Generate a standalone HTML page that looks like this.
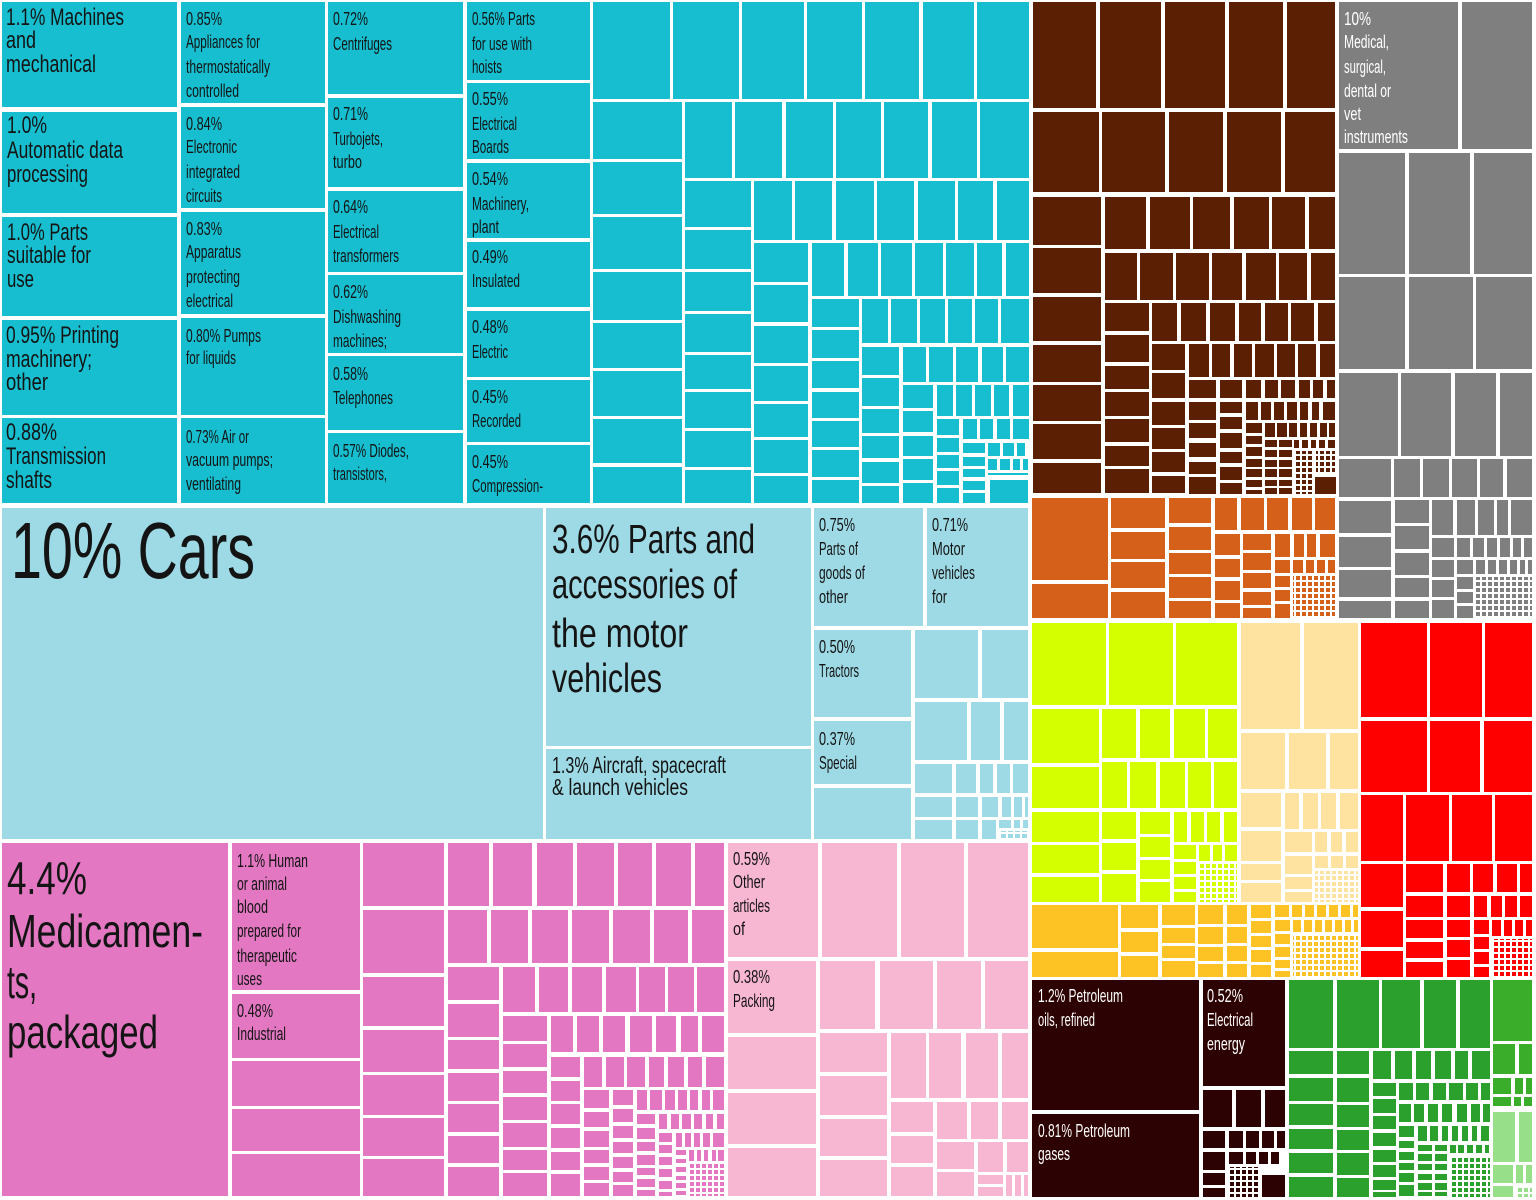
<!DOCTYPE html>
<html><head><meta charset="utf-8"><style>
html,body{margin:0;padding:0;background:#fff;}
svg{display:block;}
text{font-family:"Liberation Sans",sans-serif;}
.k{fill:#141414;}
.w{fill:#fff;}
</style></head><body>
<svg width="1536" height="1200" viewBox="0 0 1536 1200" xmlns="http://www.w3.org/2000/svg">
<defs>
<pattern id="pc" width="7" height="6" patternUnits="userSpaceOnUse"><rect width="5" height="4" fill="#17becf"/></pattern>
<pattern id="plb" width="7" height="6" patternUnits="userSpaceOnUse"><rect width="5" height="4" fill="#9edae5"/></pattern>
<pattern id="pbr" width="6" height="6" patternUnits="userSpaceOnUse"><rect width="4" height="4" fill="#5b1f04"/></pattern>
<pattern id="pgr" width="6" height="6" patternUnits="userSpaceOnUse"><rect width="4" height="4" fill="#7f7f7f"/></pattern>
<pattern id="por" width="6" height="6" patternUnits="userSpaceOnUse"><rect width="4" height="4" fill="#d5601a"/></pattern>
<pattern id="pyg" width="6" height="6" patternUnits="userSpaceOnUse"><rect width="4" height="4" fill="#d4ff00"/></pattern>
<pattern id="ply" width="6" height="6" patternUnits="userSpaceOnUse"><rect width="4" height="4" fill="#fde39f"/></pattern>
<pattern id="prd" width="6" height="6" patternUnits="userSpaceOnUse"><rect width="4" height="4" fill="#ff0000"/></pattern>
<pattern id="poy" width="6" height="6" patternUnits="userSpaceOnUse"><rect width="4" height="4" fill="#fdc223"/></pattern>
<pattern id="pdk" width="6" height="6" patternUnits="userSpaceOnUse"><rect width="4" height="4" fill="#2d0202"/></pattern>
<pattern id="pgn" width="6" height="6" patternUnits="userSpaceOnUse"><rect width="4" height="4" fill="#2ca02c"/></pattern>
<pattern id="plg" width="6" height="6" patternUnits="userSpaceOnUse"><rect width="4" height="4" fill="#98df8a"/></pattern>
<pattern id="ppk" width="6" height="6" patternUnits="userSpaceOnUse"><rect width="4" height="4" fill="#e377c2"/></pattern>
<pattern id="plp" width="6" height="6" patternUnits="userSpaceOnUse"><rect width="4" height="4" fill="#f7b6d2"/></pattern>
</defs>

<!-- CYAN -->
<g fill="#17becf">
<rect x="2" y="2" width="175" height="105"/><rect x="2" y="112" width="175" height="101"/><rect x="2" y="217" width="175" height="99"/><rect x="2" y="320" width="175" height="95"/><rect x="2" y="418" width="175" height="85"/>
<rect x="181" y="2" width="144" height="101"/><rect x="181" y="107" width="144" height="101"/><rect x="181" y="212" width="144" height="102"/><rect x="181" y="318" width="144" height="97"/><rect x="181" y="418" width="144" height="85"/>
<rect x="328" y="2" width="135" height="92"/><rect x="328" y="98" width="135" height="89"/><rect x="328" y="191" width="135" height="81"/><rect x="328" y="275" width="135" height="78"/><rect x="328" y="356" width="135" height="74"/><rect x="328" y="433" width="135" height="70"/>
<rect x="467" y="2" width="123" height="78"/><rect x="467" y="83" width="123" height="76"/><rect x="467" y="163" width="123" height="75"/><rect x="467" y="242" width="123" height="65"/><rect x="467" y="311" width="123" height="66"/><rect x="467" y="380" width="123" height="62"/><rect x="467" y="445" width="123" height="58"/>
<rect x="593" y="2" width="77" height="97"/><rect x="673" y="2" width="66" height="97"/><rect x="742" y="2" width="62" height="97"/><rect x="807" y="2" width="55" height="97"/><rect x="865" y="2" width="54" height="97"/><rect x="923" y="2" width="51" height="97"/><rect x="977" y="2" width="52" height="97"/>
<rect x="593" y="102" width="89" height="57"/><rect x="593" y="162" width="89" height="52"/><rect x="593" y="217" width="89" height="52"/><rect x="593" y="272" width="89" height="48"/><rect x="593" y="323" width="89" height="45"/><rect x="593" y="371" width="89" height="45"/><rect x="593" y="419" width="89" height="44"/><rect x="593" y="467" width="89" height="36"/>
<rect x="685" y="102" width="47" height="76"/><rect x="735" y="102" width="47" height="76"/><rect x="786" y="102" width="47" height="76"/><rect x="836" y="102" width="45" height="76"/><rect x="884" y="102" width="44" height="76"/><rect x="932" y="102" width="45" height="76"/><rect x="980" y="102" width="49" height="76"/>
<rect x="685" y="181" width="66" height="46"/><rect x="685" y="230" width="66" height="39"/><rect x="685" y="272" width="66" height="39"/><rect x="685" y="314" width="66" height="38"/><rect x="685" y="355" width="66" height="34"/><rect x="685" y="392" width="66" height="36"/><rect x="685" y="431" width="66" height="36"/><rect x="685" y="470" width="66" height="33"/>
<rect x="754" y="181" width="38" height="59"/><rect x="795" y="181" width="37" height="59"/><rect x="836" y="181" width="38" height="59"/><rect x="877" y="181" width="37" height="59"/><rect x="918" y="181" width="37" height="59"/><rect x="958" y="181" width="35" height="59"/><rect x="997" y="181" width="32" height="59"/>
<rect x="754" y="243" width="54" height="39"/><rect x="754" y="285" width="54" height="37"/><rect x="754" y="326" width="54" height="37"/><rect x="754" y="366" width="54" height="35"/><rect x="754" y="404" width="54" height="33"/><rect x="754" y="440" width="54" height="33"/><rect x="754" y="476" width="54" height="27"/>
<rect x="812" y="243" width="32" height="53"/><rect x="848" y="243" width="30" height="53"/><rect x="881" y="243" width="31" height="53"/><rect x="915" y="243" width="28" height="53"/><rect x="946" y="243" width="28" height="53"/><rect x="977" y="243" width="25" height="53"/><rect x="1006" y="243" width="23" height="53"/>
<rect x="812" y="299" width="47" height="28"/><rect x="812" y="330" width="47" height="28"/><rect x="812" y="361" width="47" height="27"/><rect x="812" y="392" width="47" height="26"/><rect x="812" y="421" width="47" height="26"/><rect x="812" y="450" width="47" height="27"/><rect x="812" y="480" width="47" height="23"/>
<rect x="862" y="299" width="26" height="44"/><rect x="891" y="299" width="26" height="44"/><rect x="920" y="299" width="25" height="44"/><rect x="948" y="299" width="24" height="44"/><rect x="975" y="299" width="23" height="44"/><rect x="1001" y="299" width="28" height="44"/>
<rect x="862" y="347" width="37" height="28"/><rect x="862" y="378" width="37" height="28"/><rect x="862" y="409" width="37" height="24"/><rect x="862" y="436" width="37" height="22"/><rect x="862" y="462" width="37" height="21"/><rect x="862" y="486" width="37" height="17"/>
<rect x="903" y="347" width="23" height="35"/><rect x="929" y="347" width="24" height="35"/><rect x="956" y="347" width="22" height="35"/><rect x="982" y="347" width="21" height="35"/><rect x="1006" y="347" width="23" height="35"/>
<rect x="903" y="385" width="30" height="23"/><rect x="903" y="411" width="30" height="21"/><rect x="903" y="436" width="30" height="20"/><rect x="903" y="459" width="30" height="21"/><rect x="903" y="483" width="30" height="20"/>
<rect x="937" y="385" width="16" height="31"/><rect x="956" y="385" width="16" height="31"/><rect x="975" y="385" width="16" height="31"/><rect x="994" y="385" width="15" height="31"/><rect x="1013" y="385" width="16" height="31"/>
<rect x="937" y="419" width="22" height="16"/><rect x="937" y="438" width="22" height="14"/><rect x="937" y="455" width="22" height="13"/><rect x="937" y="471" width="22" height="14"/><rect x="937" y="488" width="22" height="15"/>
<rect x="963" y="419" width="14" height="20"/><rect x="980" y="419" width="13" height="20"/><rect x="997" y="419" width="13" height="20"/><rect x="1013" y="419" width="16" height="20"/>
<rect x="963" y="443" width="22" height="10"/><rect x="963" y="457" width="22" height="9"/><rect x="963" y="469" width="22" height="8"/><rect x="963" y="481" width="22" height="9"/><rect x="963" y="493" width="22" height="10"/>
<rect x="988" y="443" width="12" height="13"/><rect x="1003" y="443" width="11" height="13"/><rect x="1017" y="443" width="8" height="13"/>
<rect x="988" y="459" width="9" height="11"/><rect x="1000" y="459" width="10" height="11"/><rect x="1013" y="459" width="7" height="11"/><rect x="1023" y="459" width="5" height="11"/>
<rect x="988" y="473" width="40" height="2"/><rect x="990" y="480" width="38" height="23"/>
</g>

<!-- LIGHT BLUE -->
<g fill="#9edae5">
<rect x="2" y="508" width="541" height="331"/>
<rect x="546" y="508" width="265" height="238"/><rect x="546" y="749" width="265" height="90"/>
<rect x="814" y="508" width="109" height="118"/><rect x="927" y="508" width="101" height="118"/>
<rect x="814" y="630" width="97" height="87"/><rect x="814" y="721" width="97" height="63"/><rect x="814" y="788" width="97" height="51"/>
<rect x="915" y="630" width="63" height="68"/><rect x="982" y="630" width="46" height="68"/>
<rect x="915" y="702" width="52" height="58"/><rect x="971" y="702" width="29" height="58"/><rect x="1004" y="702" width="24" height="58"/>
<rect x="915" y="764" width="37" height="29"/><rect x="956" y="764" width="20" height="29"/><rect x="980" y="764" width="13" height="29"/><rect x="997" y="764" width="13" height="29"/><rect x="1013" y="764" width="15" height="29"/>
<rect x="915" y="797" width="37" height="20"/><rect x="956" y="797" width="22" height="20"/><rect x="982" y="797" width="16" height="20"/><rect x="1002" y="797" width="9" height="20"/><rect x="1014" y="797" width="8" height="20"/><rect x="1025" y="797" width="3" height="20"/>
<rect x="915" y="820" width="37" height="19"/><rect x="956" y="820" width="22" height="19"/><rect x="982" y="820" width="14" height="19"/>
<rect x="999" y="820" width="12" height="8"/><rect x="1014" y="820" width="6" height="8"/><rect x="1023" y="820" width="5" height="8"/>
</g>
<rect x="999" y="831" width="29" height="8" fill="url(#plb)"/>

<!-- BROWN -->
<g fill="#5b1f04">
<rect x="1033" y="2" width="63" height="106"/><rect x="1100" y="2" width="61" height="106"/><rect x="1165" y="2" width="60" height="106"/><rect x="1229" y="2" width="54" height="106"/><rect x="1287" y="2" width="48" height="106"/>
<rect x="1033" y="112" width="66" height="80"/><rect x="1102" y="112" width="63" height="80"/><rect x="1169" y="112" width="54" height="80"/><rect x="1227" y="112" width="54" height="80"/><rect x="1285" y="112" width="50" height="80"/>
<rect x="1033" y="197" width="68" height="48"/><rect x="1033" y="248" width="68" height="45"/><rect x="1033" y="297" width="68" height="44"/><rect x="1033" y="345" width="68" height="37"/><rect x="1033" y="385" width="68" height="36"/><rect x="1033" y="424" width="68" height="35"/><rect x="1033" y="463" width="68" height="30"/>
<rect x="1105" y="197" width="41" height="52"/><rect x="1150" y="197" width="40" height="52"/><rect x="1193" y="197" width="37" height="52"/><rect x="1234" y="197" width="35" height="52"/><rect x="1272" y="197" width="33" height="52"/><rect x="1309" y="197" width="26" height="52"/>
<rect x="1105" y="253" width="32" height="47"/><rect x="1140" y="253" width="33" height="47"/><rect x="1176" y="253" width="33" height="47"/><rect x="1212" y="253" width="30" height="47"/><rect x="1246" y="253" width="30" height="47"/><rect x="1279" y="253" width="28" height="47"/><rect x="1311" y="253" width="24" height="47"/>
<rect x="1105" y="303" width="44" height="28"/><rect x="1105" y="335" width="44" height="27"/><rect x="1105" y="366" width="44" height="23"/><rect x="1105" y="392" width="44" height="24"/><rect x="1105" y="419" width="44" height="23"/><rect x="1105" y="446" width="44" height="20"/><rect x="1105" y="469" width="44" height="24"/>
<rect x="1152" y="303" width="25" height="38"/><rect x="1181" y="303" width="25" height="38"/><rect x="1210" y="303" width="25" height="38"/><rect x="1239" y="303" width="22" height="38"/><rect x="1265" y="303" width="23" height="38"/><rect x="1291" y="303" width="23" height="38"/><rect x="1318" y="303" width="17" height="38"/>
<rect x="1152" y="344" width="33" height="26"/><rect x="1189" y="344" width="20" height="33"/><rect x="1212" y="344" width="18" height="33"/><rect x="1234" y="344" width="18" height="33"/><rect x="1255" y="344" width="19" height="33"/><rect x="1277" y="344" width="18" height="33"/><rect x="1298" y="344" width="18" height="33"/><rect x="1320" y="344" width="15" height="33"/>
<rect x="1152" y="373" width="33" height="25"/><rect x="1152" y="402" width="33" height="23"/><rect x="1152" y="428" width="33" height="21"/><rect x="1152" y="452" width="33" height="20"/><rect x="1152" y="476" width="33" height="17"/>
<rect x="1189" y="380" width="27" height="18"/><rect x="1220" y="380" width="22" height="18"/><rect x="1246" y="380" width="15" height="18"/><rect x="1265" y="380" width="13" height="18"/><rect x="1281" y="380" width="14" height="18"/><rect x="1299" y="380" width="11" height="18"/><rect x="1313" y="380" width="10" height="18"/><rect x="1327" y="380" width="8" height="18"/>
<rect x="1189" y="402" width="27" height="18"/><rect x="1189" y="423" width="27" height="15"/><rect x="1189" y="443" width="27" height="14"/><rect x="1189" y="462" width="27" height="12"/><rect x="1189" y="477" width="27" height="17"/>
<rect x="1220" y="402" width="22" height="11"/><rect x="1220" y="417" width="22" height="12"/><rect x="1220" y="433" width="22" height="15"/><rect x="1220" y="452" width="22" height="11"/><rect x="1220" y="467" width="22" height="13"/><rect x="1220" y="483" width="22" height="11"/>
<rect x="1246" y="402" width="12" height="18"/><rect x="1261" y="402" width="10" height="18"/><rect x="1274" y="402" width="10" height="18"/><rect x="1287" y="402" width="10" height="18"/><rect x="1300" y="402" width="8" height="18"/><rect x="1312" y="402" width="7" height="18"/><rect x="1323" y="402" width="12" height="18"/>
<rect x="1246" y="423" width="16" height="10"/><rect x="1246" y="436" width="16" height="8"/><rect x="1246" y="447" width="16" height="9"/><rect x="1246" y="459" width="16" height="8"/><rect x="1246" y="469" width="16" height="8"/><rect x="1246" y="480" width="16" height="7"/><rect x="1246" y="490" width="16" height="4"/>
<rect x="1265" y="423" width="10" height="14"/><rect x="1277" y="423" width="10" height="14"/><rect x="1289" y="423" width="8" height="14"/><rect x="1300" y="423" width="7" height="14"/><rect x="1310" y="423" width="7" height="14"/><rect x="1320" y="423" width="7" height="14"/><rect x="1329" y="423" width="6" height="14"/>
<rect x="1265" y="440" width="12" height="7"/><rect x="1265" y="450" width="12" height="7"/><rect x="1265" y="460" width="12" height="7"/><rect x="1265" y="469" width="12" height="8"/><rect x="1265" y="480" width="12" height="6"/><rect x="1265" y="488" width="12" height="6"/>
<rect x="1279" y="440" width="13" height="7"/><rect x="1279" y="450" width="13" height="7"/><rect x="1279" y="460" width="13" height="7"/><rect x="1279" y="469" width="13" height="8"/><rect x="1279" y="480" width="13" height="6"/><rect x="1279" y="488" width="13" height="6"/>
<rect x="1294" y="440" width="5" height="8"/><rect x="1302" y="440" width="6" height="8"/><rect x="1311" y="440" width="5" height="8"/><rect x="1319" y="440" width="6" height="8"/><rect x="1328" y="440" width="7" height="8"/>
<rect x="1315" y="477" width="21" height="17"/>
</g>
<rect x="1294" y="451" width="20" height="43" fill="url(#pbr)"/>
<rect x="1316" y="451" width="19" height="23" fill="url(#pbr)"/>

<!-- GRAY -->
<g fill="#7f7f7f">
<rect x="1339" y="2" width="119" height="147"/><rect x="1462" y="2" width="70" height="147"/>
<rect x="1339" y="153" width="66" height="121"/><rect x="1409" y="153" width="61" height="121"/><rect x="1474" y="153" width="58" height="121"/>
<rect x="1339" y="277" width="66" height="92"/><rect x="1409" y="277" width="64" height="92"/><rect x="1476" y="277" width="56" height="92"/>
<rect x="1339" y="373" width="59" height="83"/><rect x="1401" y="373" width="50" height="83"/><rect x="1455" y="373" width="41" height="83"/><rect x="1500" y="373" width="32" height="83"/>
<rect x="1339" y="459" width="52" height="38"/><rect x="1394" y="459" width="26" height="38"/><rect x="1423" y="459" width="26" height="38"/><rect x="1452" y="459" width="25" height="38"/><rect x="1480" y="459" width="23" height="38"/><rect x="1507" y="459" width="25" height="38"/>
<rect x="1339" y="501" width="52" height="32"/><rect x="1339" y="537" width="52" height="30"/><rect x="1339" y="570" width="52" height="27"/><rect x="1339" y="601" width="52" height="17"/>
<rect x="1395" y="500" width="34" height="23"/><rect x="1395" y="526" width="34" height="23"/><rect x="1395" y="553" width="34" height="22"/><rect x="1395" y="578" width="34" height="19"/><rect x="1395" y="601" width="34" height="17"/>
<rect x="1432" y="500" width="21" height="35"/><rect x="1457" y="500" width="18" height="35"/><rect x="1478" y="500" width="16" height="35"/><rect x="1497" y="500" width="11" height="35"/><rect x="1511" y="500" width="21" height="35"/>
<rect x="1432" y="538" width="22" height="19"/><rect x="1432" y="560" width="22" height="17"/><rect x="1432" y="580" width="22" height="17"/><rect x="1432" y="600" width="22" height="18"/>
<rect x="1457" y="538" width="13" height="19"/><rect x="1473" y="538" width="11" height="19"/><rect x="1487" y="538" width="10" height="19"/><rect x="1500" y="538" width="10" height="19"/><rect x="1513" y="538" width="8" height="19"/><rect x="1524" y="538" width="8" height="19"/>
<rect x="1457" y="560" width="16" height="14"/><rect x="1457" y="577" width="16" height="12"/><rect x="1457" y="592" width="16" height="11"/><rect x="1457" y="606" width="16" height="12"/>
<rect x="1476" y="560" width="9" height="14"/><rect x="1488" y="560" width="8" height="14"/><rect x="1499" y="560" width="8" height="14"/><rect x="1510" y="560" width="7" height="14"/><rect x="1520" y="560" width="5" height="14"/><rect x="1528" y="560" width="4" height="14"/>
</g>
<rect x="1476" y="577" width="56" height="41" fill="url(#pgr)"/>

<!-- ORANGE -->
<g fill="#d5601a">
<rect x="1032" y="498" width="76" height="82"/><rect x="1032" y="584" width="76" height="34"/>
<rect x="1111" y="498" width="54" height="30"/><rect x="1111" y="532" width="54" height="27"/><rect x="1111" y="562" width="54" height="26"/><rect x="1111" y="592" width="54" height="26"/>
<rect x="1169" y="498" width="42" height="25"/><rect x="1169" y="527" width="42" height="23"/><rect x="1169" y="553" width="42" height="21"/><rect x="1169" y="577" width="42" height="21"/><rect x="1169" y="601" width="42" height="17"/>
<rect x="1215" y="498" width="22" height="32"/><rect x="1241" y="498" width="23" height="32"/><rect x="1267" y="498" width="21" height="32"/><rect x="1292" y="498" width="20" height="32"/><rect x="1315" y="498" width="20" height="32"/>
<rect x="1215" y="534" width="25" height="21"/><rect x="1215" y="559" width="25" height="18"/><rect x="1215" y="581" width="25" height="19"/><rect x="1215" y="603" width="25" height="15"/>
<rect x="1243" y="534" width="28" height="16"/><rect x="1243" y="553" width="28" height="17"/><rect x="1243" y="573" width="28" height="15"/><rect x="1243" y="592" width="28" height="13"/><rect x="1243" y="608" width="28" height="10"/>
<rect x="1275" y="534" width="15" height="23"/><rect x="1294" y="534" width="10" height="23"/><rect x="1307" y="534" width="9" height="23"/><rect x="1320" y="534" width="15" height="23"/>
<rect x="1275" y="560" width="15" height="13"/><rect x="1275" y="576" width="15" height="11"/><rect x="1275" y="590" width="15" height="11"/><rect x="1275" y="604" width="15" height="14"/>
<rect x="1293" y="560" width="10" height="13"/><rect x="1306" y="560" width="8" height="13"/><rect x="1317" y="560" width="8" height="13"/><rect x="1328" y="560" width="7" height="13"/>
</g>
<rect x="1293" y="576" width="42" height="42" fill="url(#por)"/>

<!-- YELLOW-GREEN -->
<g fill="#d4ff00">
<rect x="1032" y="623" width="74" height="82"/><rect x="1109" y="623" width="64" height="82"/><rect x="1176" y="623" width="61" height="82"/>
<rect x="1032" y="709" width="67" height="54"/><rect x="1032" y="767" width="67" height="41"/><rect x="1032" y="812" width="67" height="30"/><rect x="1032" y="845" width="67" height="28"/><rect x="1032" y="877" width="67" height="25"/>
<rect x="1102" y="709" width="34" height="49"/><rect x="1140" y="709" width="30" height="49"/><rect x="1174" y="709" width="31" height="49"/><rect x="1208" y="709" width="29" height="49"/>
<rect x="1102" y="762" width="25" height="46"/><rect x="1130" y="762" width="26" height="46"/><rect x="1160" y="762" width="25" height="46"/><rect x="1188" y="762" width="23" height="46"/><rect x="1214" y="762" width="23" height="46"/>
<rect x="1102" y="812" width="34" height="27"/><rect x="1102" y="843" width="34" height="27"/><rect x="1102" y="874" width="34" height="28"/>
<rect x="1140" y="812" width="30" height="22"/><rect x="1140" y="837" width="30" height="20"/><rect x="1140" y="860" width="30" height="19"/><rect x="1140" y="882" width="30" height="20"/>
<rect x="1174" y="812" width="13" height="30"/><rect x="1191" y="812" width="13" height="30"/><rect x="1207" y="812" width="13" height="30"/><rect x="1224" y="812" width="13" height="30"/>
<rect x="1174" y="845" width="22" height="14"/><rect x="1174" y="862" width="22" height="12"/><rect x="1174" y="877" width="22" height="12"/><rect x="1174" y="892" width="22" height="10"/>
<rect x="1199" y="845" width="11" height="16"/><rect x="1213" y="845" width="9" height="16"/><rect x="1225" y="845" width="12" height="16"/>
</g>
<rect x="1199" y="864" width="38" height="38" fill="url(#pyg)"/>

<!-- LIGHT YELLOW -->
<g fill="#fde39f">
<rect x="1241" y="623" width="59" height="106"/><rect x="1304" y="623" width="54" height="106"/>
<rect x="1241" y="733" width="44" height="56"/><rect x="1289" y="733" width="37" height="56"/><rect x="1330" y="733" width="28" height="56"/>
<rect x="1241" y="793" width="40" height="34"/><rect x="1241" y="831" width="40" height="30"/><rect x="1241" y="864" width="40" height="16"/><rect x="1241" y="883" width="40" height="19"/>
<rect x="1285" y="793" width="14" height="36"/><rect x="1303" y="793" width="15" height="36"/><rect x="1321" y="793" width="15" height="36"/><rect x="1340" y="793" width="18" height="36"/>
<rect x="1285" y="832" width="27" height="20"/><rect x="1315" y="832" width="12" height="20"/><rect x="1331" y="832" width="11" height="20"/><rect x="1346" y="832" width="12" height="20"/>
<rect x="1285" y="856" width="27" height="18"/><rect x="1285" y="877" width="27" height="12"/><rect x="1285" y="892" width="27" height="10"/>
<rect x="1315" y="856" width="13" height="12"/><rect x="1331" y="856" width="12" height="12"/><rect x="1346" y="856" width="12" height="12"/>
</g>
<rect x="1315" y="871" width="43" height="31" fill="url(#ply)"/>

<!-- RED -->
<g fill="#ff0000">
<rect x="1361" y="623" width="66" height="94"/><rect x="1430" y="623" width="52" height="94"/><rect x="1485" y="623" width="47" height="94"/>
<rect x="1361" y="721" width="66" height="71"/><rect x="1430" y="721" width="50" height="71"/><rect x="1484" y="721" width="48" height="71"/>
<rect x="1361" y="795" width="42" height="66"/><rect x="1406" y="795" width="43" height="66"/><rect x="1452" y="795" width="40" height="66"/><rect x="1495" y="795" width="37" height="66"/>
<rect x="1361" y="864" width="42" height="43"/><rect x="1361" y="911" width="42" height="36"/><rect x="1361" y="951" width="42" height="26"/>
<rect x="1406" y="864" width="37" height="28"/><rect x="1447" y="864" width="23" height="28"/><rect x="1473" y="864" width="20" height="28"/><rect x="1497" y="864" width="20" height="28"/><rect x="1520" y="864" width="12" height="28"/>
<rect x="1406" y="896" width="37" height="21"/><rect x="1406" y="920" width="37" height="18"/><rect x="1406" y="942" width="37" height="16"/><rect x="1406" y="962" width="37" height="15"/>
<rect x="1447" y="896" width="23" height="21"/><rect x="1474" y="896" width="13" height="21"/><rect x="1491" y="896" width="11" height="21"/><rect x="1505" y="896" width="12" height="21"/><rect x="1520" y="896" width="12" height="21"/>
<rect x="1447" y="920" width="23" height="17"/><rect x="1447" y="940" width="23" height="17"/><rect x="1447" y="960" width="23" height="17"/>
<rect x="1474" y="920" width="15" height="14"/><rect x="1474" y="937" width="15" height="12"/><rect x="1474" y="952" width="15" height="12"/><rect x="1474" y="967" width="15" height="10"/>
<rect x="1492" y="920" width="9" height="16"/><rect x="1504" y="920" width="8" height="16"/><rect x="1515" y="920" width="8" height="16"/><rect x="1526" y="920" width="6" height="16"/>
</g>
<rect x="1492" y="939" width="40" height="38" fill="url(#prd)"/>

<!-- ORANGE-YELLOW -->
<g fill="#fdc223">
<rect x="1032" y="905" width="86" height="43"/><rect x="1032" y="952" width="86" height="25"/>
<rect x="1121" y="905" width="37" height="23"/><rect x="1121" y="932" width="37" height="20"/><rect x="1121" y="956" width="37" height="21"/>
<rect x="1162" y="905" width="33" height="20"/><rect x="1162" y="928" width="33" height="15"/><rect x="1162" y="946" width="33" height="12"/><rect x="1162" y="961" width="33" height="16"/>
<rect x="1198" y="905" width="25" height="19"/><rect x="1198" y="927" width="25" height="17"/><rect x="1198" y="947" width="25" height="14"/><rect x="1198" y="964" width="25" height="13"/>
<rect x="1227" y="905" width="20" height="19"/><rect x="1227" y="927" width="20" height="16"/><rect x="1227" y="946" width="20" height="15"/><rect x="1227" y="964" width="20" height="13"/>
<rect x="1251" y="905" width="20" height="13"/><rect x="1251" y="921" width="20" height="12"/><rect x="1251" y="936" width="20" height="11"/><rect x="1251" y="950" width="20" height="12"/><rect x="1251" y="965" width="20" height="12"/>
<rect x="1275" y="905" width="14" height="12"/><rect x="1292" y="905" width="10" height="12"/><rect x="1305" y="905" width="9" height="12"/><rect x="1317" y="905" width="9" height="12"/><rect x="1329" y="905" width="9" height="12"/><rect x="1341" y="905" width="9" height="12"/><rect x="1353" y="905" width="5" height="12"/>
<rect x="1275" y="920" width="15" height="11"/><rect x="1275" y="934" width="15" height="10"/><rect x="1275" y="947" width="15" height="10"/><rect x="1275" y="960" width="15" height="8"/><rect x="1275" y="971" width="15" height="6"/>
<rect x="1293" y="920" width="8" height="12"/><rect x="1304" y="920" width="8" height="12"/><rect x="1315" y="920" width="7" height="12"/><rect x="1325" y="920" width="7" height="12"/><rect x="1335" y="920" width="7" height="12"/><rect x="1345" y="920" width="6" height="12"/><rect x="1354" y="920" width="4" height="12"/>
</g>
<rect x="1293" y="935" width="65" height="42" fill="url(#poy)"/>

<!-- DARK -->
<g fill="#2d0202">
<rect x="1032" y="980" width="167" height="130"/><rect x="1032" y="1114" width="167" height="83"/>
<rect x="1203" y="980" width="82" height="106"/>
<rect x="1203" y="1090" width="29" height="37"/><rect x="1236" y="1090" width="25" height="37"/><rect x="1265" y="1090" width="20" height="37"/>
<rect x="1203" y="1131" width="22" height="17"/><rect x="1229" y="1131" width="14" height="17"/><rect x="1246" y="1131" width="13" height="17"/><rect x="1262" y="1131" width="12" height="17"/><rect x="1277" y="1131" width="8" height="17"/>
<rect x="1203" y="1152" width="22" height="18"/><rect x="1203" y="1173" width="22" height="12"/><rect x="1203" y="1188" width="22" height="9"/>
<rect x="1229" y="1152" width="14" height="12"/><rect x="1246" y="1152" width="10" height="12"/><rect x="1259" y="1152" width="9" height="12"/><rect x="1271" y="1152" width="8" height="12"/>
<rect x="1262" y="1175" width="23" height="22"/>
</g>
<rect x="1229" y="1167" width="31" height="30" fill="url(#pdk)"/>

<!-- GREEN -->
<g fill="#2ca02c">
<rect x="1289" y="980" width="44" height="68"/><rect x="1337" y="980" width="42" height="68"/><rect x="1382" y="980" width="38" height="68"/><rect x="1424" y="980" width="32" height="68"/><rect x="1460" y="980" width="30" height="68"/>
<rect x="1289" y="1051" width="44" height="23"/><rect x="1289" y="1078" width="44" height="23"/><rect x="1289" y="1104" width="44" height="21"/><rect x="1289" y="1129" width="44" height="20"/><rect x="1289" y="1153" width="44" height="20"/><rect x="1289" y="1177" width="44" height="20"/>
<rect x="1337" y="1051" width="32" height="23"/><rect x="1337" y="1078" width="32" height="24"/><rect x="1337" y="1105" width="32" height="22"/><rect x="1337" y="1130" width="32" height="20"/><rect x="1337" y="1153" width="32" height="22"/><rect x="1337" y="1178" width="32" height="19"/>
<rect x="1373" y="1051" width="18" height="28"/><rect x="1395" y="1051" width="17" height="28"/><rect x="1416" y="1051" width="15" height="28"/><rect x="1435" y="1051" width="16" height="28"/><rect x="1455" y="1051" width="13" height="28"/><rect x="1472" y="1051" width="18" height="28"/>
<rect x="1373" y="1083" width="23" height="13"/><rect x="1373" y="1099" width="23" height="14"/><rect x="1373" y="1116" width="23" height="13"/><rect x="1373" y="1133" width="23" height="13"/><rect x="1373" y="1150" width="23" height="12"/><rect x="1373" y="1165" width="23" height="12"/><rect x="1373" y="1180" width="23" height="10"/><rect x="1373" y="1192" width="23" height="5"/>
<rect x="1399" y="1083" width="14" height="17"/><rect x="1416" y="1083" width="13" height="17"/><rect x="1433" y="1083" width="13" height="17"/><rect x="1449" y="1083" width="14" height="17"/><rect x="1466" y="1083" width="12" height="17"/><rect x="1481" y="1083" width="9" height="17"/>
<rect x="1399" y="1104" width="12" height="18"/><rect x="1414" y="1104" width="10" height="18"/><rect x="1428" y="1104" width="10" height="18"/><rect x="1442" y="1104" width="10" height="18"/><rect x="1457" y="1104" width="10" height="18"/><rect x="1471" y="1104" width="9" height="18"/><rect x="1483" y="1104" width="7" height="18"/>
<rect x="1399" y="1126" width="15" height="11"/><rect x="1399" y="1141" width="15" height="7"/><rect x="1399" y="1152" width="15" height="8"/><rect x="1399" y="1163" width="15" height="7"/><rect x="1399" y="1173" width="15" height="9"/><rect x="1399" y="1185" width="15" height="11"/>
<rect x="1418" y="1126" width="9" height="15"/><rect x="1430" y="1126" width="8" height="15"/><rect x="1442" y="1126" width="6" height="15"/><rect x="1452" y="1126" width="6" height="15"/><rect x="1462" y="1126" width="6" height="15"/><rect x="1472" y="1126" width="5" height="15"/><rect x="1481" y="1126" width="8" height="15"/>
<rect x="1418" y="1145" width="14" height="6"/><rect x="1418" y="1154" width="14" height="7"/><rect x="1418" y="1164" width="14" height="6"/><rect x="1418" y="1174" width="14" height="6"/><rect x="1418" y="1183" width="14" height="7"/><rect x="1418" y="1192" width="14" height="4"/>
<rect x="1435" y="1145" width="12" height="6"/><rect x="1435" y="1154" width="12" height="7"/><rect x="1435" y="1164" width="12" height="6"/><rect x="1435" y="1174" width="12" height="6"/><rect x="1435" y="1183" width="12" height="7"/><rect x="1435" y="1192" width="12" height="4"/>
<rect x="1450" y="1145" width="6" height="8"/><rect x="1458" y="1145" width="6" height="8"/><rect x="1467" y="1145" width="6" height="8"/><rect x="1476" y="1145" width="6" height="8"/><rect x="1485" y="1145" width="4" height="8"/>
</g>
<rect x="1450" y="1156" width="40" height="41" fill="url(#pgn)"/>
<g fill="#3aae2a">
<rect x="1493" y="980" width="39" height="61"/>
<rect x="1493" y="1044" width="22" height="30"/><rect x="1519" y="1044" width="13" height="30"/>
<rect x="1493" y="1078" width="18" height="16"/><rect x="1515" y="1078" width="8" height="16"/><rect x="1526" y="1078" width="6" height="16"/>
<rect x="1493" y="1097" width="18" height="9"/><rect x="1514" y="1097" width="7" height="9"/><rect x="1524" y="1097" width="8" height="9"/>
</g>
<g fill="#98df8a">
<rect x="1493" y="1112" width="22" height="50"/><rect x="1519" y="1112" width="13" height="50"/>
<rect x="1493" y="1165" width="20" height="18"/><rect x="1516" y="1165" width="7" height="18"/><rect x="1526" y="1165" width="6" height="18"/>
<rect x="1493" y="1186" width="20" height="11"/>
</g>
<rect x="1516" y="1186" width="16" height="11" fill="url(#plg)"/>

<!-- PINK -->
<g fill="#e377c2">
<rect x="2" y="843" width="226" height="353"/>
<rect x="232" y="843" width="128" height="147"/><rect x="232" y="994" width="128" height="64"/><rect x="232" y="1061" width="128" height="45"/><rect x="232" y="1109" width="128" height="42"/><rect x="232" y="1154" width="128" height="42"/>
<rect x="363" y="843" width="81" height="63"/><rect x="363" y="910" width="81" height="63"/><rect x="363" y="977" width="81" height="49"/><rect x="363" y="1030" width="81" height="42"/><rect x="363" y="1075" width="81" height="40"/><rect x="363" y="1118" width="81" height="38"/><rect x="363" y="1159" width="81" height="37"/>
<rect x="448" y="843" width="41" height="63"/><rect x="493" y="843" width="39" height="63"/><rect x="537" y="843" width="36" height="63"/><rect x="577" y="843" width="37" height="63"/><rect x="618" y="843" width="34" height="63"/><rect x="656" y="843" width="35" height="63"/><rect x="695" y="843" width="29" height="63"/>
<rect x="448" y="910" width="39" height="53"/><rect x="491" y="910" width="37" height="53"/><rect x="532" y="910" width="36" height="53"/><rect x="572" y="910" width="37" height="53"/><rect x="613" y="910" width="37" height="53"/><rect x="654" y="910" width="34" height="53"/><rect x="692" y="910" width="32" height="53"/>
<rect x="448" y="967" width="51" height="33"/><rect x="448" y="1004" width="51" height="33"/><rect x="448" y="1040" width="51" height="29"/><rect x="448" y="1073" width="51" height="28"/><rect x="448" y="1104" width="51" height="28"/><rect x="448" y="1136" width="51" height="27"/><rect x="448" y="1167" width="51" height="29"/>
<rect x="503" y="967" width="32" height="45"/><rect x="539" y="967" width="29" height="45"/><rect x="572" y="967" width="30" height="45"/><rect x="606" y="967" width="30" height="45"/><rect x="639" y="967" width="26" height="45"/><rect x="668" y="967" width="26" height="45"/><rect x="697" y="967" width="27" height="45"/>
<rect x="503" y="1016" width="44" height="25"/><rect x="503" y="1044" width="44" height="23"/><rect x="503" y="1071" width="44" height="22"/><rect x="503" y="1097" width="44" height="23"/><rect x="503" y="1123" width="44" height="24"/><rect x="503" y="1150" width="44" height="20"/><rect x="503" y="1173" width="44" height="23"/>
<rect x="551" y="1016" width="22" height="36"/><rect x="577" y="1016" width="22" height="36"/><rect x="603" y="1016" width="22" height="36"/><rect x="630" y="1016" width="22" height="36"/><rect x="656" y="1016" width="20" height="36"/><rect x="681" y="1016" width="17" height="36"/><rect x="702" y="1016" width="22" height="36"/>
<rect x="551" y="1057" width="29" height="20"/><rect x="551" y="1081" width="29" height="20"/><rect x="551" y="1104" width="29" height="20"/><rect x="551" y="1128" width="29" height="20"/><rect x="551" y="1152" width="29" height="18"/><rect x="551" y="1174" width="29" height="22"/>
<rect x="584" y="1057" width="18" height="30"/><rect x="606" y="1057" width="18" height="30"/><rect x="627" y="1057" width="18" height="30"/><rect x="649" y="1057" width="15" height="30"/><rect x="668" y="1057" width="16" height="30"/><rect x="688" y="1057" width="14" height="30"/><rect x="706" y="1057" width="18" height="30"/>
<rect x="584" y="1090" width="25" height="18"/><rect x="584" y="1112" width="25" height="15"/><rect x="584" y="1131" width="25" height="16"/><rect x="584" y="1150" width="25" height="13"/><rect x="584" y="1167" width="25" height="13"/><rect x="584" y="1183" width="25" height="13"/>
<rect x="613" y="1090" width="20" height="15"/><rect x="613" y="1109" width="20" height="13"/><rect x="613" y="1126" width="20" height="12"/><rect x="613" y="1142" width="20" height="11"/><rect x="613" y="1157" width="20" height="11"/><rect x="613" y="1172" width="20" height="10"/><rect x="613" y="1185" width="20" height="11"/>
<rect x="637" y="1090" width="10" height="20"/><rect x="650" y="1090" width="12" height="20"/><rect x="665" y="1090" width="10" height="20"/><rect x="678" y="1090" width="9" height="20"/><rect x="690" y="1090" width="8" height="20"/><rect x="702" y="1090" width="8" height="20"/><rect x="713" y="1090" width="11" height="20"/>
<rect x="637" y="1114" width="18" height="10"/><rect x="637" y="1128" width="18" height="11"/><rect x="637" y="1142" width="18" height="9"/><rect x="637" y="1155" width="18" height="10"/><rect x="637" y="1168" width="18" height="7"/><rect x="637" y="1179" width="18" height="8"/><rect x="637" y="1190" width="18" height="6"/>
<rect x="659" y="1114" width="8" height="15"/><rect x="671" y="1114" width="8" height="15"/><rect x="682" y="1114" width="9" height="15"/><rect x="694" y="1114" width="8" height="15"/><rect x="706" y="1114" width="7" height="15"/><rect x="717" y="1114" width="7" height="15"/>
<rect x="659" y="1133" width="13" height="9"/><rect x="659" y="1145" width="13" height="8"/><rect x="659" y="1157" width="13" height="8"/><rect x="659" y="1169" width="13" height="8"/><rect x="659" y="1181" width="13" height="8"/><rect x="659" y="1192" width="13" height="4"/>
<rect x="676" y="1133" width="6" height="14"/><rect x="685" y="1133" width="6" height="14"/><rect x="694" y="1133" width="6" height="14"/><rect x="703" y="1133" width="7" height="14"/><rect x="713" y="1133" width="11" height="14"/>
<rect x="676" y="1150" width="10" height="5"/><rect x="676" y="1159" width="10" height="4"/><rect x="676" y="1167" width="10" height="5"/><rect x="676" y="1176" width="10" height="4"/><rect x="676" y="1183" width="10" height="5"/><rect x="676" y="1191" width="10" height="4"/>
<rect x="689" y="1150" width="5" height="11"/><rect x="697" y="1150" width="4" height="11"/><rect x="704" y="1150" width="4" height="11"/><rect x="712" y="1150" width="4" height="11"/><rect x="718" y="1150" width="6" height="11"/>
</g>
<rect x="689" y="1164" width="35" height="32" fill="url(#ppk)"/>

<!-- LIGHT PINK -->
<g fill="#f7b6d2">
<rect x="728" y="843" width="90" height="114"/><rect x="822" y="843" width="75" height="114"/><rect x="901" y="843" width="63" height="114"/><rect x="968" y="843" width="60" height="114"/>
<rect x="728" y="961" width="88" height="72"/><rect x="820" y="961" width="55" height="68"/><rect x="880" y="961" width="53" height="68"/><rect x="937" y="961" width="44" height="68"/><rect x="985" y="961" width="43" height="68"/>
<rect x="728" y="1037" width="88" height="52"/><rect x="728" y="1093" width="88" height="51"/><rect x="728" y="1148" width="88" height="48"/>
<rect x="820" y="1033" width="67" height="39"/><rect x="820" y="1076" width="67" height="39"/><rect x="820" y="1119" width="67" height="37"/><rect x="820" y="1160" width="67" height="36"/>
<rect x="891" y="1033" width="35" height="65"/><rect x="929" y="1033" width="32" height="65"/><rect x="966" y="1033" width="32" height="65"/><rect x="1002" y="1033" width="26" height="65"/>
<rect x="891" y="1102" width="42" height="30"/><rect x="891" y="1136" width="42" height="27"/><rect x="891" y="1167" width="42" height="29"/>
<rect x="937" y="1102" width="30" height="37"/><rect x="971" y="1102" width="27" height="37"/><rect x="1002" y="1102" width="26" height="37"/>
<rect x="937" y="1142" width="37" height="27"/><rect x="937" y="1172" width="37" height="24"/>
<rect x="978" y="1142" width="25" height="30"/><rect x="1007" y="1142" width="21" height="30"/>
<rect x="978" y="1175" width="25" height="9"/><rect x="978" y="1187" width="25" height="9"/><rect x="1006" y="1175" width="6" height="21"/><rect x="1015" y="1175" width="6" height="21"/><rect x="1024" y="1175" width="4" height="21"/>
</g>

<!-- TEXT: cyan col 1 -->
<g class="k" font-size="24">
<text x="6" y="25" textLength="118" lengthAdjust="spacingAndGlyphs">1.1% Machines</text>
<text x="6" y="48" textLength="30" lengthAdjust="spacingAndGlyphs">and</text>
<text x="6" y="72" textLength="90" lengthAdjust="spacingAndGlyphs">mechanical</text>
<text x="7" y="133" textLength="40" lengthAdjust="spacingAndGlyphs">1.0%</text>
<text x="7" y="158" textLength="116" lengthAdjust="spacingAndGlyphs">Automatic data</text>
<text x="7" y="182" textLength="81" lengthAdjust="spacingAndGlyphs">processing</text>
<text x="7" y="240" textLength="81" lengthAdjust="spacingAndGlyphs">1.0% Parts</text>
<text x="7" y="263" textLength="84" lengthAdjust="spacingAndGlyphs">suitable for</text>
<text x="7" y="287" textLength="27" lengthAdjust="spacingAndGlyphs">use</text>
<text x="6" y="343" textLength="113" lengthAdjust="spacingAndGlyphs">0.95% Printing</text>
<text x="6" y="367" textLength="86" lengthAdjust="spacingAndGlyphs">machinery;</text>
<text x="6" y="390" textLength="42" lengthAdjust="spacingAndGlyphs">other</text>
<text x="6" y="440" textLength="51" lengthAdjust="spacingAndGlyphs">0.88%</text>
<text x="6" y="464" textLength="100" lengthAdjust="spacingAndGlyphs">Transmission</text>
<text x="6" y="488" textLength="46" lengthAdjust="spacingAndGlyphs">shafts</text>
</g>

<!-- cyan small labels -->
<g class="k" font-size="18">
<text x="186" y="25" textLength="36" lengthAdjust="spacingAndGlyphs">0.85%</text>
<text x="186" y="48" textLength="74" lengthAdjust="spacingAndGlyphs">Appliances for</text>
<text x="186" y="73" textLength="84" lengthAdjust="spacingAndGlyphs">thermostatically</text>
<text x="186" y="97" textLength="53" lengthAdjust="spacingAndGlyphs">controlled</text>
<text x="186" y="130" textLength="36" lengthAdjust="spacingAndGlyphs">0.84%</text>
<text x="186" y="153" textLength="51" lengthAdjust="spacingAndGlyphs">Electronic</text>
<text x="186" y="178" textLength="54" lengthAdjust="spacingAndGlyphs">integrated</text>
<text x="186" y="202" textLength="36" lengthAdjust="spacingAndGlyphs">circuits</text>
<text x="186" y="235" textLength="36" lengthAdjust="spacingAndGlyphs">0.83%</text>
<text x="186" y="258" textLength="55" lengthAdjust="spacingAndGlyphs">Apparatus</text>
<text x="186" y="283" textLength="54" lengthAdjust="spacingAndGlyphs">protecting</text>
<text x="186" y="307" textLength="47" lengthAdjust="spacingAndGlyphs">electrical</text>
<text x="186" y="342" textLength="75" lengthAdjust="spacingAndGlyphs">0.80% Pumps</text>
<text x="186" y="364" textLength="50" lengthAdjust="spacingAndGlyphs">for liquids</text>
<text x="186" y="443" textLength="63" lengthAdjust="spacingAndGlyphs">0.73% Air or</text>
<text x="186" y="466" textLength="87" lengthAdjust="spacingAndGlyphs">vacuum pumps;</text>
<text x="186" y="490" textLength="55" lengthAdjust="spacingAndGlyphs">ventilating</text>

<text x="333" y="25" textLength="35" lengthAdjust="spacingAndGlyphs">0.72%</text>
<text x="333" y="50" textLength="59" lengthAdjust="spacingAndGlyphs">Centrifuges</text>
<text x="333" y="120" textLength="35" lengthAdjust="spacingAndGlyphs">0.71%</text>
<text x="333" y="145" textLength="50" lengthAdjust="spacingAndGlyphs">Turbojets,</text>
<text x="333" y="168" textLength="29" lengthAdjust="spacingAndGlyphs">turbo</text>
<text x="333" y="213" textLength="35" lengthAdjust="spacingAndGlyphs">0.64%</text>
<text x="333" y="238" textLength="46" lengthAdjust="spacingAndGlyphs">Electrical</text>
<text x="333" y="262" textLength="66" lengthAdjust="spacingAndGlyphs">transformers</text>
<text x="333" y="298" textLength="35" lengthAdjust="spacingAndGlyphs">0.62%</text>
<text x="333" y="323" textLength="68" lengthAdjust="spacingAndGlyphs">Dishwashing</text>
<text x="333" y="347" textLength="54" lengthAdjust="spacingAndGlyphs">machines;</text>
<text x="333" y="380" textLength="35" lengthAdjust="spacingAndGlyphs">0.58%</text>
<text x="333" y="404" textLength="60" lengthAdjust="spacingAndGlyphs">Telephones</text>
<text x="333" y="457" textLength="76" lengthAdjust="spacingAndGlyphs">0.57% Diodes,</text>
<text x="333" y="480" textLength="54" lengthAdjust="spacingAndGlyphs">transistors,</text>

<text x="472" y="25" textLength="63" lengthAdjust="spacingAndGlyphs">0.56% Parts</text>
<text x="472" y="50" textLength="60" lengthAdjust="spacingAndGlyphs">for use with</text>
<text x="472" y="73" textLength="30" lengthAdjust="spacingAndGlyphs">hoists</text>
<text x="472" y="105" textLength="36" lengthAdjust="spacingAndGlyphs">0.55%</text>
<text x="472" y="130" textLength="45" lengthAdjust="spacingAndGlyphs">Electrical</text>
<text x="472" y="153" textLength="37" lengthAdjust="spacingAndGlyphs">Boards</text>
<text x="472" y="185" textLength="36" lengthAdjust="spacingAndGlyphs">0.54%</text>
<text x="472" y="210" textLength="57" lengthAdjust="spacingAndGlyphs">Machinery,</text>
<text x="472" y="233" textLength="27" lengthAdjust="spacingAndGlyphs">plant</text>
<text x="472" y="263" textLength="36" lengthAdjust="spacingAndGlyphs">0.49%</text>
<text x="472" y="287" textLength="48" lengthAdjust="spacingAndGlyphs">Insulated</text>
<text x="472" y="333" textLength="36" lengthAdjust="spacingAndGlyphs">0.48%</text>
<text x="472" y="358" textLength="36" lengthAdjust="spacingAndGlyphs">Electric</text>
<text x="472" y="403" textLength="36" lengthAdjust="spacingAndGlyphs">0.45%</text>
<text x="472" y="427" textLength="49" lengthAdjust="spacingAndGlyphs">Recorded</text>
<text x="472" y="468" textLength="36" lengthAdjust="spacingAndGlyphs">0.45%</text>
<text x="472" y="492" textLength="71" lengthAdjust="spacingAndGlyphs">Compression-</text>
</g>

<!-- light blue labels -->
<text class="k" x="11" y="578" font-size="80" textLength="244" lengthAdjust="spacingAndGlyphs">10% Cars</text>
<g class="k" font-size="41">
<text x="552" y="553" textLength="203" lengthAdjust="spacingAndGlyphs">3.6% Parts and</text>
<text x="552" y="598" textLength="185" lengthAdjust="spacingAndGlyphs">accessories of</text>
<text x="552" y="647" textLength="136" lengthAdjust="spacingAndGlyphs">the motor</text>
<text x="552" y="692" textLength="110" lengthAdjust="spacingAndGlyphs">vehicles</text>
</g>
<g class="k" font-size="23">
<text x="552" y="773" textLength="174" lengthAdjust="spacingAndGlyphs">1.3% Aircraft, spacecraft</text>
<text x="552" y="795" textLength="136" lengthAdjust="spacingAndGlyphs">&amp; launch vehicles</text>
</g>
<g class="k" font-size="18">
<text x="819" y="531" textLength="36" lengthAdjust="spacingAndGlyphs">0.75%</text>
<text x="819" y="555" textLength="39" lengthAdjust="spacingAndGlyphs">Parts of</text>
<text x="819" y="579" textLength="46" lengthAdjust="spacingAndGlyphs">goods of</text>
<text x="819" y="603" textLength="29" lengthAdjust="spacingAndGlyphs">other</text>
<text x="932" y="531" textLength="36" lengthAdjust="spacingAndGlyphs">0.71%</text>
<text x="932" y="555" textLength="33" lengthAdjust="spacingAndGlyphs">Motor</text>
<text x="932" y="579" textLength="43" lengthAdjust="spacingAndGlyphs">vehicles</text>
<text x="932" y="603" textLength="15" lengthAdjust="spacingAndGlyphs">for</text>
<text x="819" y="653" textLength="36" lengthAdjust="spacingAndGlyphs">0.50%</text>
<text x="819" y="677" textLength="40" lengthAdjust="spacingAndGlyphs">Tractors</text>
<text x="819" y="745" textLength="36" lengthAdjust="spacingAndGlyphs">0.37%</text>
<text x="819" y="769" textLength="38" lengthAdjust="spacingAndGlyphs">Special</text>
</g>

<!-- pink labels -->
<g class="k" font-size="46">
<text x="7" y="894" textLength="80" lengthAdjust="spacingAndGlyphs">4.4%</text>
<text x="7" y="947" textLength="196" lengthAdjust="spacingAndGlyphs">Medicamen-</text>
<text x="7" y="998" textLength="30" lengthAdjust="spacingAndGlyphs">ts,</text>
<text x="7" y="1048" textLength="151" lengthAdjust="spacingAndGlyphs">packaged</text>
</g>
<g class="k" font-size="18">
<text x="237" y="867" textLength="71" lengthAdjust="spacingAndGlyphs">1.1% Human</text>
<text x="237" y="890" textLength="50" lengthAdjust="spacingAndGlyphs">or animal</text>
<text x="237" y="913" textLength="31" lengthAdjust="spacingAndGlyphs">blood</text>
<text x="237" y="937" textLength="64" lengthAdjust="spacingAndGlyphs">prepared for</text>
<text x="237" y="962" textLength="60" lengthAdjust="spacingAndGlyphs">therapeutic</text>
<text x="237" y="985" textLength="25" lengthAdjust="spacingAndGlyphs">uses</text>
<text x="237" y="1017" textLength="36" lengthAdjust="spacingAndGlyphs">0.48%</text>
<text x="237" y="1040" textLength="49" lengthAdjust="spacingAndGlyphs">Industrial</text>
<text x="733" y="865" textLength="37" lengthAdjust="spacingAndGlyphs">0.59%</text>
<text x="733" y="888" textLength="32" lengthAdjust="spacingAndGlyphs">Other</text>
<text x="733" y="912" textLength="37" lengthAdjust="spacingAndGlyphs">articles</text>
<text x="733" y="935" textLength="12" lengthAdjust="spacingAndGlyphs">of</text>
<text x="733" y="983" textLength="37" lengthAdjust="spacingAndGlyphs">0.38%</text>
<text x="733" y="1007" textLength="42" lengthAdjust="spacingAndGlyphs">Packing</text>
</g>

<!-- white labels -->
<g class="w" font-size="18">
<text x="1344" y="25" textLength="27" lengthAdjust="spacingAndGlyphs">10%</text>
<text x="1344" y="48" textLength="45" lengthAdjust="spacingAndGlyphs">Medical,</text>
<text x="1344" y="73" textLength="42" lengthAdjust="spacingAndGlyphs">surgical,</text>
<text x="1344" y="97" textLength="47" lengthAdjust="spacingAndGlyphs">dental or</text>
<text x="1344" y="120" textLength="17" lengthAdjust="spacingAndGlyphs">vet</text>
<text x="1344" y="143" textLength="64" lengthAdjust="spacingAndGlyphs">instruments</text>
<text x="1038" y="1002" textLength="85" lengthAdjust="spacingAndGlyphs">1.2% Petroleum</text>
<text x="1038" y="1026" textLength="57" lengthAdjust="spacingAndGlyphs">oils, refined</text>
<text x="1038" y="1137" textLength="92" lengthAdjust="spacingAndGlyphs">0.81% Petroleum</text>
<text x="1038" y="1160" textLength="32" lengthAdjust="spacingAndGlyphs">gases</text>
<text x="1207" y="1002" textLength="36" lengthAdjust="spacingAndGlyphs">0.52%</text>
<text x="1207" y="1026" textLength="46" lengthAdjust="spacingAndGlyphs">Electrical</text>
<text x="1207" y="1050" textLength="38" lengthAdjust="spacingAndGlyphs">energy</text>
</g>
</svg>
</body></html>
